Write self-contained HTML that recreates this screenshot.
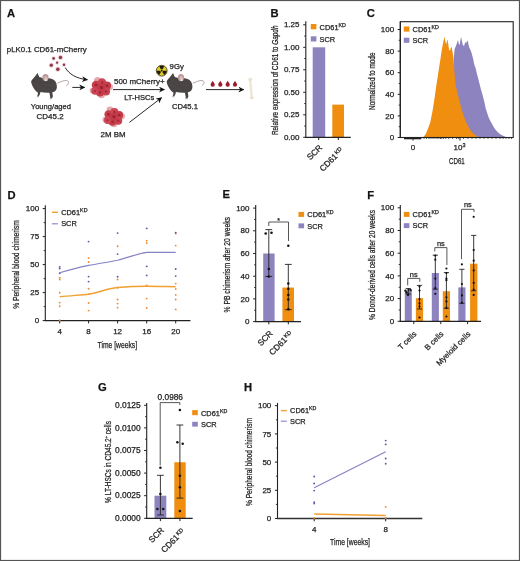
<!DOCTYPE html><html><head><meta charset="utf-8"><style>html,body{margin:0;padding:0;background:#fff;}svg{display:block;will-change:transform;}text{font-family:"Liberation Sans",sans-serif;stroke:#222;stroke-width:0.25px;}</style></head><body>
<svg width="520" height="561" viewBox="0 0 520 561">
<rect x="0" y="0" width="520" height="561" fill="#fff"/>
<text x="7" y="17.1" font-size="11.2" font-weight="bold" fill="#111">A</text>
<text x="6.80" y="51.90" font-size="7.8" text-anchor="start" fill="#222" textLength="80" lengthAdjust="spacingAndGlyphs">pLK0.1 CD61-mCherry</text>
<text x="50.90" y="108.90" font-size="7.8" text-anchor="middle" fill="#222" textLength="40.2" lengthAdjust="spacingAndGlyphs">Young/aged</text>
<text x="50.10" y="118.60" font-size="7.8" text-anchor="middle" fill="#222" textLength="27" lengthAdjust="spacingAndGlyphs">CD45.2</text>
<text x="114.00" y="84.20" font-size="7.8" text-anchor="start" fill="#222" textLength="50.6" lengthAdjust="spacingAndGlyphs">500 mCherry+</text>
<text x="124.20" y="100.20" font-size="7.8" text-anchor="start" fill="#222" textLength="30.2" lengthAdjust="spacingAndGlyphs">LT-HSCs</text>
<text x="100.60" y="136.70" font-size="7.8" text-anchor="start" fill="#222" textLength="25" lengthAdjust="spacingAndGlyphs">2M BM</text>
<text x="169.60" y="68.80" font-size="7.8" text-anchor="start" fill="#222" textLength="14.2" lengthAdjust="spacingAndGlyphs">9Gy</text>
<text x="185.00" y="108.70" font-size="7.8" text-anchor="middle" fill="#222" textLength="26" lengthAdjust="spacingAndGlyphs">CD45.1</text>
<defs><marker id="ah" viewBox="0 0 10 10" refX="9" refY="5" markerWidth="6" markerHeight="6" markerUnits="userSpaceOnUse" orient="auto"><path d="M0,0 L10,5 L0,10 L3,5 Z" fill="#111"/></marker>
<g id="mouse"><path d="M57.2,83.2 C60.5,82.2 63.5,80.2 66.5,80.5 C69.5,80.9 69,83.8 66.2,86" fill="none" stroke="#a48d8d" stroke-width="0.8"/><path d="M31.1,81.4 C32,79.6 33.8,77.6 35.1,76.2 L37.5,73.1 L39.3,77.1 C40.6,77.4 41.8,77.8 42.8,78.2 L48.9,78.3 C51,78.6 53,79.2 54.5,80.5 C56.2,82 57,84.5 56.9,87.2 C56.8,89.5 55.5,91.2 53.6,92 L52.3,92.3 L52.9,96.6 L51.9,98.4 L49.9,98.3 L50.3,97.3 L49.4,92.7 C46,92.9 43,92.5 40.5,91.9 L39.8,94.6 L38.6,96.4 L37.0,96.3 L37.6,95.2 L38.0,92.8 C36.2,91.6 34.4,89.5 33.2,87.2 C32.2,85.4 31.3,83.4 31.1,81.4 Z" fill="#4a4545"/><path d="M36.9,96.6 L38.8,96.7 M49.6,98.7 L52,98.7" stroke="#b7a7a7" stroke-width="1.1"/><path d="M34,83 C36,86 40,88 44,88.5 M45,84 C48,86 52,86 55,85" stroke="#5a5454" stroke-width="0.6" fill="none" opacity="0.7"/><ellipse cx="45.5" cy="77.6" rx="3.1" ry="3.7" fill="#b99a98"/><ellipse cx="45.8" cy="78.6" rx="1.8" ry="2.3" fill="#d9bcba"/><ellipse cx="46.2" cy="80.2" rx="1.1" ry="0.9" fill="#efe2e0"/><circle cx="33.9" cy="80.3" r="0.45" fill="#1a1a1a"/></g>
<g id="cluster"><circle cx="-3.5" cy="-7" r="3.5" fill="#e4a7ab"/><circle cx="0.5" cy="7.2" r="3.5" fill="#e6adb0"/><circle cx="8.8" cy="-0.5" r="3.2" fill="#e8b2b4"/><circle cx="-8.3" cy="3" r="3" fill="#e4a7ab"/><circle cx="-5" cy="-2.5" r="4.3" fill="#c63e4b"/><circle cx="1" cy="-5" r="4.2" fill="#cc4654"/><circle cx="6" cy="-1.8" r="4.1" fill="#c43c4a"/><circle cx="5" cy="4" r="4.1" fill="#c84250"/><circle cx="-1" cy="5" r="4.1" fill="#c53d4b"/><circle cx="-6" cy="3.5" r="3.8" fill="#cc4654"/><circle cx="0" cy="0" r="4" fill="#c23a48"/><circle cx="-5" cy="-2.5" r="1.4" fill="#a3232f"/><circle cx="1" cy="-5" r="1.3" fill="#a8283a"/><circle cx="6" cy="-1.8" r="1.3" fill="#a3232f"/><circle cx="5" cy="4" r="1.3" fill="#a8283a"/><circle cx="-1" cy="5" r="1.3" fill="#a3232f"/><circle cx="-6" cy="3.5" r="1.1" fill="#a8283a"/><circle cx="0.5" cy="0" r="1.5" fill="#9c1f2c"/></g>
<path id="drop" d="M0,0 C0.6,1.4 2.1,2.6 2.1,3.9 A2.1,2.1 0 0 1 -2.1,3.9 C-2.1,2.6 -0.6,1.4 0,0 Z" fill="#9c1b2c"/>
</defs>
<circle cx="53.6" cy="58.4" r="2.20" fill="#f0c4cc" opacity="0.7"/>
<circle cx="53.60" cy="58.40" r="1.3" fill="#8c3646"/>
<circle cx="60.5" cy="57.4" r="2.60" fill="#f0c4cc" opacity="0.7"/>
<circle cx="60.50" cy="57.40" r="1.7" fill="#8c3646"/>
<circle cx="57.1" cy="62.7" r="2.00" fill="#f0c4cc" opacity="0.7"/>
<circle cx="57.10" cy="62.70" r="1.1" fill="#8c3646"/>
<circle cx="51.3" cy="65.2" r="2.50" fill="#f0c4cc" opacity="0.7"/>
<circle cx="51.30" cy="65.20" r="1.6" fill="#8c3646"/>
<circle cx="64.0" cy="64.8" r="2.10" fill="#f0c4cc" opacity="0.7"/>
<circle cx="64.00" cy="64.80" r="1.2" fill="#8c3646"/>
<circle cx="57.8" cy="69.2" r="2.60" fill="#f0c4cc" opacity="0.7"/>
<circle cx="57.80" cy="69.20" r="1.7" fill="#8c3646"/>
<use href="#mouse"/>
<use href="#mouse" transform="translate(135.5,0)"/>
<use href="#cluster" transform="translate(101,87.5)"/>
<use href="#cluster" transform="translate(113.4,116.8) scale(0.97)"/>
<path d="M65.2,67.6 C69,74 76,78.5 87.4,79.8" fill="none" stroke="#111" stroke-width="0.9" marker-end="url(#ah)"/>
<line x1="72.3" y1="87.4" x2="84.6" y2="87.4" stroke="#111" stroke-width="0.9" marker-end="url(#ah)"/>
<line x1="113" y1="89.6" x2="164.4" y2="89.6" stroke="#111" stroke-width="0.9" marker-end="url(#ah)"/>
<line x1="129.4" y1="122.4" x2="161.6" y2="97.7" stroke="#111" stroke-width="0.9" marker-end="url(#ah)"/>
<line x1="206" y1="89.6" x2="243.8" y2="89.6" stroke="#111" stroke-width="0.9" marker-end="url(#ah)"/>
<circle cx="161.7" cy="70.7" r="5.4" fill="#dccd2a" stroke="#3a3214" stroke-width="0.8"/>
<path d="M161.00,69.49 L159.20,66.37 A5.0,5.0 0 0 1 164.20,66.37 L162.40,69.49 A1.4,1.4 0 0 0 161.00,69.49 Z" fill="#1e1a10"/>
<path d="M163.10,70.70 L166.70,70.70 A5.0,5.0 0 0 1 164.20,75.03 L162.40,71.91 A1.4,1.4 0 0 0 163.10,70.70 Z" fill="#1e1a10"/>
<path d="M161.00,71.91 L159.20,75.03 A5.0,5.0 0 0 1 156.70,70.70 L160.30,70.70 A1.4,1.4 0 0 0 161.00,71.91 Z" fill="#1e1a10"/>
<circle cx="161.70" cy="70.70" r="0.9" fill="#1e1a10"/>
<use href="#drop" transform="translate(212.7,80.8)"/>
<use href="#drop" transform="translate(220.3,80.8)"/>
<use href="#drop" transform="translate(227.7,80.8)"/>
<use href="#drop" transform="translate(235.0,80.8)"/>
<g fill="#efe6d6" stroke="#e4d8c4" stroke-width="0.35"><path d="M249.3,80.2 L251.0,80.2 L252.7,97.4 L250.9,97.4 Z"/><ellipse cx="250.2" cy="79.5" rx="1.9" ry="1.2"/><ellipse cx="251.9" cy="97.9" rx="1.9" ry="1.2"/></g><rect x="249" y="78.2" width="2.5" height="1" fill="#ddd8d0" opacity="0.6"/>
<text x="270.6" y="17.2" font-size="11.2" font-weight="bold" fill="#111">B</text>
<rect x="312.70" y="47.30" width="12.50" height="90.00" fill="#8c83bf"/>
<rect x="332.30" y="104.63" width="11.70" height="32.67" fill="#f08e10"/>
<line x1="305.80" y1="21.30" x2="305.80" y2="137.80" stroke="#222" stroke-width="1.1" />
<line x1="303.20" y1="137.30" x2="305.80" y2="137.30" stroke="#222" stroke-width="1.0" />
<text x="299.50" y="139.90" font-size="8.0" text-anchor="end" fill="#222" >0.00</text>
<line x1="303.20" y1="114.80" x2="305.80" y2="114.80" stroke="#222" stroke-width="1.0" />
<text x="299.50" y="117.40" font-size="8.0" text-anchor="end" fill="#222" >0.25</text>
<line x1="303.20" y1="92.30" x2="305.80" y2="92.30" stroke="#222" stroke-width="1.0" />
<text x="299.50" y="94.90" font-size="8.0" text-anchor="end" fill="#222" >0.50</text>
<line x1="303.20" y1="69.80" x2="305.80" y2="69.80" stroke="#222" stroke-width="1.0" />
<text x="299.50" y="72.40" font-size="8.0" text-anchor="end" fill="#222" >0.75</text>
<line x1="303.20" y1="47.30" x2="305.80" y2="47.30" stroke="#222" stroke-width="1.0" />
<text x="299.50" y="49.90" font-size="8.0" text-anchor="end" fill="#222" >1.00</text>
<line x1="303.20" y1="24.80" x2="305.80" y2="24.80" stroke="#222" stroke-width="1.0" />
<text x="299.50" y="27.40" font-size="8.0" text-anchor="end" fill="#222" >1.25</text>
<line x1="304.20" y1="126.05" x2="305.80" y2="126.05" stroke="#222" stroke-width="0.9" />
<line x1="304.20" y1="103.55" x2="305.80" y2="103.55" stroke="#222" stroke-width="0.9" />
<line x1="304.20" y1="81.05" x2="305.80" y2="81.05" stroke="#222" stroke-width="0.9" />
<line x1="304.20" y1="58.55" x2="305.80" y2="58.55" stroke="#222" stroke-width="0.9" />
<line x1="304.20" y1="36.05" x2="305.80" y2="36.05" stroke="#222" stroke-width="0.9" />
<line x1="305.30" y1="137.30" x2="350.80" y2="137.30" stroke="#222" stroke-width="1.2" />
<line x1="318.70" y1="137.30" x2="318.70" y2="140.10" stroke="#222" stroke-width="1.0" />
<line x1="338.30" y1="137.30" x2="338.30" y2="140.10" stroke="#222" stroke-width="1.0" />
<rect x="310.80" y="24.00" width="5.60" height="5.30" fill="#f08e10"/>
<text x="319.60" y="29.60" font-size="7.4" fill="#222">CD61<tspan font-size="5.33" dy="-3.0">KD</tspan></text>
<rect x="310.80" y="36.30" width="5.60" height="5.20" fill="#8c83bf"/>
<text x="319.60" y="41.80" font-size="7.4" text-anchor="start" fill="#222" >SCR</text>
<text transform="translate(278.40,80.30) rotate(-90)" x="0" y="0" font-size="9.4" text-anchor="middle" fill="#222" textLength="109.6" lengthAdjust="spacingAndGlyphs">Relative expression of CD61 to <tspan font-style="italic">Gapdh</tspan></text>
<text transform="translate(322.80,148.10) rotate(-45)" x="0" y="0" font-size="8.4" text-anchor="end" fill="#222">SCR</text>
<text transform="translate(344.0,151.0) rotate(-45)" x="0" y="0" font-size="8.4" text-anchor="end" fill="#222">CD61<tspan font-size="5.6" dx="0.5" dy="-2.6">KD</tspan></text>
<text x="366.8" y="17.0" font-size="11.2" font-weight="bold" fill="#111">C</text>
<path d="M447.0,137.5 L450.0,120.0 L452.0,100.0 L453.5,80.0 L453.8,58.0 L454.6,49.0 L455.5,47.0 L456.5,44.5 L457.3,42.0 L458.0,40.0 L458.8,44.0 L459.6,45.0 L460.3,41.0 L461.0,37.0 L461.8,40.0 L462.5,44.0 L463.3,45.5 L464.1,46.0 L464.8,43.5 L465.4,42.0 L466.2,43.0 L467.0,41.2 L467.7,40.6 L468.4,44.0 L469.2,47.5 L470.0,49.0 L470.8,50.8 L471.6,53.0 L472.5,56.5 L473.3,59.5 L474.0,63.5 L474.8,66.0 L475.7,68.5 L476.6,72.5 L477.8,77.1 L479.2,82.5 L480.7,88.5 L482.0,93.0 L483.5,98.5 L484.6,103.0 L485.7,108.4 L487.0,112.5 L488.5,117.0 L490.2,120.8 L492.1,124.1 L493.8,127.2 L495.6,129.8 L497.8,132.2 L499.9,134.1 L502.0,135.3 L504.2,136.2 L507.0,137.5 Z" fill="#8c83bf"/>
<path d="M423.1,137.5 L425.9,133.7 L428.0,128.5 L430.1,123.0 L432.3,112.3 L433.3,106.2 L435.0,95.0 L436.4,85.0 L437.5,78.0 L439.0,68.0 L440.3,60.0 L441.3,53.0 L442.5,46.0 L443.5,41.0 L444.6,36.8 L445.4,41.5 L446.2,44.6 L447.0,41.0 L447.7,39.8 L448.4,45.0 L449.2,50.8 L450.2,50.0 L451.0,47.5 L451.5,46.8 L452.2,50.0 L452.9,54.2 L453.5,58.8 L454.6,73.8 L455.5,85.0 L456.3,88.0 L458.5,97.0 L460.8,106.2 L463.0,114.0 L466.0,122.0 L468.5,127.0 L471.3,131.5 L474.5,134.5 L477.7,136.8 L480.0,137.5 Z" fill="#f08e10"/>
<rect x="400.3" y="21.7" width="112.9" height="115.8" fill="none" stroke="#222" stroke-width="1.1"/>
<line x1="400.30" y1="21.70" x2="400.30" y2="138.00" stroke="#222" stroke-width="1.1" />
<line x1="397.70" y1="137.50" x2="400.30" y2="137.50" stroke="#222" stroke-width="1.0" />
<text x="394.10" y="140.10" font-size="8.0" text-anchor="end" fill="#222" >0</text>
<line x1="397.70" y1="115.90" x2="400.30" y2="115.90" stroke="#222" stroke-width="1.0" />
<text x="394.10" y="118.50" font-size="8.0" text-anchor="end" fill="#222" >20</text>
<line x1="397.70" y1="94.30" x2="400.30" y2="94.30" stroke="#222" stroke-width="1.0" />
<text x="394.10" y="96.90" font-size="8.0" text-anchor="end" fill="#222" >40</text>
<line x1="397.70" y1="72.70" x2="400.30" y2="72.70" stroke="#222" stroke-width="1.0" />
<text x="394.10" y="75.30" font-size="8.0" text-anchor="end" fill="#222" >60</text>
<line x1="397.70" y1="51.10" x2="400.30" y2="51.10" stroke="#222" stroke-width="1.0" />
<text x="394.10" y="53.70" font-size="8.0" text-anchor="end" fill="#222" >80</text>
<line x1="397.70" y1="29.50" x2="400.30" y2="29.50" stroke="#222" stroke-width="1.0" />
<text x="394.10" y="32.10" font-size="8.0" text-anchor="end" fill="#222" >100</text>
<line x1="398.70" y1="126.70" x2="400.30" y2="126.70" stroke="#222" stroke-width="0.9" />
<line x1="398.70" y1="105.10" x2="400.30" y2="105.10" stroke="#222" stroke-width="0.9" />
<line x1="398.70" y1="83.50" x2="400.30" y2="83.50" stroke="#222" stroke-width="0.9" />
<line x1="398.70" y1="61.90" x2="400.30" y2="61.90" stroke="#222" stroke-width="0.9" />
<line x1="398.70" y1="40.30" x2="400.30" y2="40.30" stroke="#222" stroke-width="0.9" />
<rect x="404" y="137.5" width="17" height="1.8" fill="#222"/>
<line x1="413.00" y1="137.50" x2="413.00" y2="140.50" stroke="#222" stroke-width="1.0" />
<line x1="460.00" y1="137.50" x2="460.00" y2="140.50" stroke="#222" stroke-width="1.0" />
<line x1="405.00" y1="137.50" x2="405.00" y2="139.00" stroke="#222" stroke-width="0.7" />
<line x1="407.00" y1="137.50" x2="407.00" y2="139.00" stroke="#222" stroke-width="0.7" />
<line x1="409.00" y1="137.50" x2="409.00" y2="139.00" stroke="#222" stroke-width="0.7" />
<line x1="411.00" y1="137.50" x2="411.00" y2="139.00" stroke="#222" stroke-width="0.7" />
<line x1="415.00" y1="137.50" x2="415.00" y2="139.00" stroke="#222" stroke-width="0.7" />
<line x1="417.00" y1="137.50" x2="417.00" y2="139.00" stroke="#222" stroke-width="0.7" />
<line x1="419.00" y1="137.50" x2="419.00" y2="139.00" stroke="#222" stroke-width="0.7" />
<line x1="421.00" y1="137.50" x2="421.00" y2="139.00" stroke="#222" stroke-width="0.7" />
<line x1="424.00" y1="137.50" x2="424.00" y2="139.00" stroke="#222" stroke-width="0.7" />
<line x1="426.50" y1="137.50" x2="426.50" y2="139.00" stroke="#222" stroke-width="0.7" />
<line x1="429.00" y1="137.50" x2="429.00" y2="139.00" stroke="#222" stroke-width="0.7" />
<line x1="431.00" y1="137.50" x2="431.00" y2="139.00" stroke="#222" stroke-width="0.7" />
<line x1="433.00" y1="137.50" x2="433.00" y2="139.00" stroke="#222" stroke-width="0.7" />
<line x1="435.00" y1="137.50" x2="435.00" y2="139.00" stroke="#222" stroke-width="0.7" />
<line x1="437.00" y1="137.50" x2="437.00" y2="139.00" stroke="#222" stroke-width="0.7" />
<line x1="438.80" y1="137.50" x2="438.80" y2="139.00" stroke="#222" stroke-width="0.7" />
<line x1="440.50" y1="137.50" x2="440.50" y2="139.00" stroke="#222" stroke-width="0.7" />
<line x1="441.80" y1="137.50" x2="441.80" y2="139.00" stroke="#222" stroke-width="0.7" />
<line x1="443.50" y1="137.50" x2="443.50" y2="139.00" stroke="#222" stroke-width="0.7" />
<line x1="445.70" y1="137.50" x2="445.70" y2="139.00" stroke="#222" stroke-width="0.7" />
<line x1="448.80" y1="137.50" x2="448.80" y2="139.00" stroke="#222" stroke-width="0.7" />
<line x1="452.60" y1="137.50" x2="452.60" y2="139.00" stroke="#222" stroke-width="0.7" />
<line x1="456.50" y1="137.50" x2="456.50" y2="139.00" stroke="#222" stroke-width="0.7" />
<line x1="458.30" y1="137.50" x2="458.30" y2="139.00" stroke="#222" stroke-width="0.7" />
<line x1="463.50" y1="137.50" x2="463.50" y2="139.00" stroke="#222" stroke-width="0.7" />
<line x1="468.00" y1="137.50" x2="468.00" y2="139.00" stroke="#222" stroke-width="0.7" />
<line x1="472.00" y1="137.50" x2="472.00" y2="139.00" stroke="#222" stroke-width="0.7" />
<line x1="476.00" y1="137.50" x2="476.00" y2="139.00" stroke="#222" stroke-width="0.7" />
<line x1="480.00" y1="137.50" x2="480.00" y2="139.00" stroke="#222" stroke-width="0.7" />
<line x1="484.00" y1="137.50" x2="484.00" y2="139.00" stroke="#222" stroke-width="0.7" />
<line x1="488.00" y1="137.50" x2="488.00" y2="139.00" stroke="#222" stroke-width="0.7" />
<line x1="492.00" y1="137.50" x2="492.00" y2="139.00" stroke="#222" stroke-width="0.7" />
<line x1="496.00" y1="137.50" x2="496.00" y2="139.00" stroke="#222" stroke-width="0.7" />
<line x1="500.00" y1="137.50" x2="500.00" y2="139.00" stroke="#222" stroke-width="0.7" />
<line x1="503.00" y1="137.50" x2="503.00" y2="139.00" stroke="#222" stroke-width="0.7" />
<line x1="506.00" y1="137.50" x2="506.00" y2="139.00" stroke="#222" stroke-width="0.7" />
<line x1="509.00" y1="137.50" x2="509.00" y2="139.00" stroke="#222" stroke-width="0.7" />
<line x1="511.50" y1="137.50" x2="511.50" y2="139.00" stroke="#222" stroke-width="0.7" />
<text x="413.00" y="150.40" font-size="8.0" text-anchor="middle" fill="#222" >0</text>
<text x="453.6" y="150.4" font-size="8.0" fill="#222">10<tspan font-size="5.4" dy="-3.3">3</tspan></text>
<text x="456.90" y="164.00" font-size="9.4" text-anchor="middle" fill="#222" textLength="15.7" lengthAdjust="spacingAndGlyphs">CD61</text>
<text transform="translate(375.10,81.25) rotate(-90)" x="0" y="0" font-size="9.4" text-anchor="middle" fill="#222" textLength="57.5" lengthAdjust="spacingAndGlyphs">Normalized to mode</text>
<rect x="403.80" y="26.50" width="5.60" height="5.10" fill="#f08e10"/>
<text x="412.60" y="31.90" font-size="7.4" fill="#222">CD61<tspan font-size="5.33" dy="-3.0">KD</tspan></text>
<rect x="403.80" y="37.70" width="5.60" height="5.10" fill="#8c83bf"/>
<text x="412.60" y="43.10" font-size="7.4" text-anchor="start" fill="#222" >SCR</text>
<text x="7.6" y="199.4" font-size="11.2" font-weight="bold" fill="#111">D</text>
<line x1="45.30" y1="205.20" x2="45.30" y2="321.10" stroke="#222" stroke-width="1.1" />
<line x1="42.70" y1="320.60" x2="45.30" y2="320.60" stroke="#222" stroke-width="1.0" />
<text x="39.10" y="323.20" font-size="8.0" text-anchor="end" fill="#222" >0</text>
<line x1="42.70" y1="292.60" x2="45.30" y2="292.60" stroke="#222" stroke-width="1.0" />
<text x="39.10" y="295.20" font-size="8.0" text-anchor="end" fill="#222" >25</text>
<line x1="42.70" y1="264.60" x2="45.30" y2="264.60" stroke="#222" stroke-width="1.0" />
<text x="39.10" y="267.20" font-size="8.0" text-anchor="end" fill="#222" >50</text>
<line x1="42.70" y1="236.60" x2="45.30" y2="236.60" stroke="#222" stroke-width="1.0" />
<text x="39.10" y="239.20" font-size="8.0" text-anchor="end" fill="#222" >75</text>
<line x1="42.70" y1="208.60" x2="45.30" y2="208.60" stroke="#222" stroke-width="1.0" />
<text x="39.10" y="211.20" font-size="8.0" text-anchor="end" fill="#222" >100</text>
<line x1="43.70" y1="306.60" x2="45.30" y2="306.60" stroke="#222" stroke-width="0.9" />
<line x1="43.70" y1="278.60" x2="45.30" y2="278.60" stroke="#222" stroke-width="0.9" />
<line x1="43.70" y1="250.60" x2="45.30" y2="250.60" stroke="#222" stroke-width="0.9" />
<line x1="43.70" y1="222.60" x2="45.30" y2="222.60" stroke="#222" stroke-width="0.9" />
<line x1="44.80" y1="320.60" x2="190.40" y2="320.60" stroke="#222" stroke-width="1.2" />
<line x1="59.70" y1="320.60" x2="59.70" y2="323.40" stroke="#222" stroke-width="1.0" />
<text x="59.70" y="334.00" font-size="8.0" text-anchor="middle" fill="#222" >4</text>
<line x1="88.60" y1="320.60" x2="88.60" y2="323.40" stroke="#222" stroke-width="1.0" />
<text x="88.60" y="334.00" font-size="8.0" text-anchor="middle" fill="#222" >8</text>
<line x1="117.60" y1="320.60" x2="117.60" y2="323.40" stroke="#222" stroke-width="1.0" />
<text x="117.60" y="334.00" font-size="8.0" text-anchor="middle" fill="#222" >12</text>
<line x1="146.70" y1="320.60" x2="146.70" y2="323.40" stroke="#222" stroke-width="1.0" />
<text x="146.70" y="334.00" font-size="8.0" text-anchor="middle" fill="#222" >16</text>
<line x1="175.70" y1="320.60" x2="175.70" y2="323.40" stroke="#222" stroke-width="1.0" />
<text x="175.70" y="334.00" font-size="8.0" text-anchor="middle" fill="#222" >20</text>
<text x="117.35" y="347.80" font-size="9.4" text-anchor="middle" fill="#222" textLength="39.5" lengthAdjust="spacingAndGlyphs">Time [weeks]</text>
<text transform="translate(19.30,264.50) rotate(-90)" x="0" y="0" font-size="9.4" text-anchor="middle" fill="#222" textLength="88.7" lengthAdjust="spacingAndGlyphs">% Peripheral blood chimerism</text>
<circle cx="59.70" cy="277.70" r="0.95" fill="#ee8a30"/>
<circle cx="59.70" cy="279.50" r="0.95" fill="#ee8a30"/>
<circle cx="59.70" cy="292.70" r="0.95" fill="#ee8a30"/>
<circle cx="59.70" cy="302.60" r="0.95" fill="#ee8a30"/>
<circle cx="59.70" cy="306.20" r="0.95" fill="#ee8a30"/>
<circle cx="59.70" cy="320.20" r="0.95" fill="#ee8a30"/>
<circle cx="59.70" cy="266.90" r="0.95" fill="#5c5aa8"/>
<circle cx="59.70" cy="268.60" r="0.95" fill="#5c5aa8"/>
<circle cx="59.70" cy="273.30" r="0.95" fill="#5c5aa8"/>
<circle cx="88.60" cy="258.10" r="0.95" fill="#ee8a30"/>
<circle cx="88.60" cy="262.00" r="0.95" fill="#ee8a30"/>
<circle cx="88.60" cy="288.80" r="0.95" fill="#ee8a30"/>
<circle cx="88.60" cy="294.10" r="0.95" fill="#ee8a30"/>
<circle cx="88.60" cy="303.00" r="0.95" fill="#ee8a30"/>
<circle cx="88.60" cy="310.60" r="0.95" fill="#ee8a30"/>
<circle cx="88.60" cy="241.60" r="0.95" fill="#5c5aa8"/>
<circle cx="88.60" cy="276.60" r="0.95" fill="#5c5aa8"/>
<circle cx="88.60" cy="281.60" r="0.95" fill="#5c5aa8"/>
<circle cx="117.60" cy="246.20" r="0.95" fill="#ee8a30"/>
<circle cx="117.60" cy="279.50" r="0.95" fill="#ee8a30"/>
<circle cx="117.60" cy="287.70" r="0.95" fill="#ee8a30"/>
<circle cx="117.60" cy="299.50" r="0.95" fill="#ee8a30"/>
<circle cx="117.60" cy="303.60" r="0.95" fill="#ee8a30"/>
<circle cx="117.60" cy="307.60" r="0.95" fill="#ee8a30"/>
<circle cx="117.60" cy="233.10" r="0.95" fill="#5c5aa8"/>
<circle cx="117.60" cy="254.10" r="0.95" fill="#5c5aa8"/>
<circle cx="117.60" cy="276.70" r="0.95" fill="#5c5aa8"/>
<circle cx="146.70" cy="240.60" r="0.95" fill="#ee8a30"/>
<circle cx="146.70" cy="243.00" r="0.95" fill="#ee8a30"/>
<circle cx="146.70" cy="285.50" r="0.95" fill="#ee8a30"/>
<circle cx="146.70" cy="298.60" r="0.95" fill="#ee8a30"/>
<circle cx="146.70" cy="308.00" r="0.95" fill="#ee8a30"/>
<circle cx="146.70" cy="228.40" r="0.95" fill="#5c5aa8"/>
<circle cx="146.70" cy="266.40" r="0.95" fill="#5c5aa8"/>
<circle cx="146.70" cy="275.40" r="0.95" fill="#5c5aa8"/>
<circle cx="175.70" cy="233.50" r="0.95" fill="#ee8a30"/>
<circle cx="175.70" cy="245.60" r="0.95" fill="#ee8a30"/>
<circle cx="175.70" cy="283.60" r="0.95" fill="#ee8a30"/>
<circle cx="175.70" cy="288.90" r="0.95" fill="#ee8a30"/>
<circle cx="175.70" cy="294.90" r="0.95" fill="#ee8a30"/>
<circle cx="175.70" cy="299.50" r="0.95" fill="#ee8a30"/>
<circle cx="175.70" cy="309.40" r="0.95" fill="#ee8a30"/>
<circle cx="175.70" cy="232.70" r="0.95" fill="#5c5aa8"/>
<circle cx="175.70" cy="269.00" r="0.95" fill="#5c5aa8"/>
<circle cx="175.70" cy="276.10" r="0.95" fill="#5c5aa8"/>
<path d="M59.7,272.7 C70,269.8 78,267.6 88.6,265.4 C98,263.5 108,262.2 117.6,260.2 C128,257.6 137,253.8 146.7,252.4 L175.7,252.4" fill="none" stroke="#8682c6" stroke-width="1.1"/>
<path d="M59.7,296.8 C70,295.6 80,295.2 88.6,294.2 C99,292.6 106,288.6 117.6,287.6 C127,286.8 137,286.3 146.7,286.3 C157,286.3 165,286.6 175.7,286.8" fill="none" stroke="#f0a030" stroke-width="1.5"/>
<line x1="51.90" y1="212.30" x2="57.90" y2="212.30" stroke="#f0a030" stroke-width="1.4" />
<text x="61.20" y="214.50" font-size="7.4" fill="#222">CD61<tspan font-size="5.33" dy="-3.0">KD</tspan></text>
<line x1="51.90" y1="223.80" x2="57.90" y2="223.80" stroke="#8682c6" stroke-width="1.1" />
<text x="61.20" y="226.00" font-size="7.4" text-anchor="start" fill="#222" >SCR</text>
<text x="222.6" y="198.3" font-size="11.2" font-weight="bold" fill="#111">E</text>
<rect x="263.20" y="253.50" width="11.40" height="68.10" fill="#8c83bf"/>
<rect x="282.40" y="287.55" width="11.60" height="34.05" fill="#f08e10"/>
<line x1="255.70" y1="205.00" x2="255.70" y2="322.10" stroke="#222" stroke-width="1.1" />
<line x1="253.10" y1="321.60" x2="255.70" y2="321.60" stroke="#222" stroke-width="1.0" />
<text x="249.50" y="324.20" font-size="8.0" text-anchor="end" fill="#222" >0</text>
<line x1="253.10" y1="298.90" x2="255.70" y2="298.90" stroke="#222" stroke-width="1.0" />
<text x="249.50" y="301.50" font-size="8.0" text-anchor="end" fill="#222" >20</text>
<line x1="253.10" y1="276.20" x2="255.70" y2="276.20" stroke="#222" stroke-width="1.0" />
<text x="249.50" y="278.80" font-size="8.0" text-anchor="end" fill="#222" >40</text>
<line x1="253.10" y1="253.50" x2="255.70" y2="253.50" stroke="#222" stroke-width="1.0" />
<text x="249.50" y="256.10" font-size="8.0" text-anchor="end" fill="#222" >60</text>
<line x1="253.10" y1="230.80" x2="255.70" y2="230.80" stroke="#222" stroke-width="1.0" />
<text x="249.50" y="233.40" font-size="8.0" text-anchor="end" fill="#222" >80</text>
<line x1="253.10" y1="208.10" x2="255.70" y2="208.10" stroke="#222" stroke-width="1.0" />
<text x="249.50" y="210.70" font-size="8.0" text-anchor="end" fill="#222" >100</text>
<line x1="254.10" y1="310.25" x2="255.70" y2="310.25" stroke="#222" stroke-width="0.9" />
<line x1="254.10" y1="287.55" x2="255.70" y2="287.55" stroke="#222" stroke-width="0.9" />
<line x1="254.10" y1="264.85" x2="255.70" y2="264.85" stroke="#222" stroke-width="0.9" />
<line x1="254.10" y1="242.15" x2="255.70" y2="242.15" stroke="#222" stroke-width="0.9" />
<line x1="254.10" y1="219.45" x2="255.70" y2="219.45" stroke="#222" stroke-width="0.9" />
<line x1="255.20" y1="321.60" x2="301.00" y2="321.60" stroke="#222" stroke-width="1.2" />
<line x1="268.80" y1="321.60" x2="268.80" y2="324.40" stroke="#222" stroke-width="1.0" />
<line x1="288.30" y1="321.60" x2="288.30" y2="324.40" stroke="#222" stroke-width="1.0" />
<line x1="268.80" y1="229.60" x2="268.80" y2="276.50" stroke="#222" stroke-width="0.9" />
<line x1="265.40" y1="229.60" x2="272.20" y2="229.60" stroke="#222" stroke-width="0.9" />
<line x1="265.40" y1="276.50" x2="272.20" y2="276.50" stroke="#222" stroke-width="0.9" />
<line x1="288.30" y1="264.40" x2="288.30" y2="309.70" stroke="#222" stroke-width="0.9" />
<line x1="284.90" y1="264.40" x2="291.70" y2="264.40" stroke="#222" stroke-width="0.9" />
<line x1="284.90" y1="309.70" x2="291.70" y2="309.70" stroke="#222" stroke-width="0.9" />
<circle cx="265.70" cy="233.50" r="1.3" fill="#111"/>
<circle cx="271.50" cy="232.70" r="1.3" fill="#111"/>
<circle cx="268.80" cy="269.00" r="1.25" fill="#111"/>
<circle cx="268.80" cy="276.50" r="1.25" fill="#111"/>
<circle cx="288.30" cy="245.80" r="1.25" fill="#111"/>
<circle cx="288.30" cy="283.50" r="1.25" fill="#111"/>
<circle cx="288.30" cy="288.70" r="1.25" fill="#111"/>
<circle cx="288.30" cy="294.90" r="1.25" fill="#111"/>
<circle cx="288.30" cy="299.60" r="1.25" fill="#111"/>
<circle cx="288.30" cy="309.30" r="1.25" fill="#111"/>
<path d="M268.8,226 L268.8,222 L288.5,222 L288.5,241" fill="none" stroke="#444" stroke-width="0.9"/>
<text x="278.60" y="222.80" font-size="7.0" text-anchor="middle" fill="#222" >*</text>
<rect x="298.50" y="211.90" width="5.60" height="5.00" fill="#f08e10"/>
<text x="307.30" y="217.20" font-size="7.4" fill="#222">CD61<tspan font-size="5.33" dy="-3.0">KD</tspan></text>
<rect x="298.50" y="223.40" width="5.60" height="4.90" fill="#8c83bf"/>
<text x="307.30" y="228.60" font-size="7.4" text-anchor="start" fill="#222" >SCR</text>
<text transform="translate(229.80,264.80) rotate(-90)" x="0" y="0" font-size="9.4" text-anchor="middle" fill="#222" textLength="95.4" lengthAdjust="spacingAndGlyphs">% PB chimerism after 20 weeks</text>
<text transform="translate(273.40,333.90) rotate(-45)" x="0" y="0" font-size="8.4" text-anchor="end" fill="#222">SCR</text>
<text transform="translate(293.4,334.7) rotate(-45)" x="0" y="0" font-size="8.4" text-anchor="end" fill="#222">CD61<tspan font-size="5.6" dx="0.5" dy="-2.6">KD</tspan></text>
<text x="367.2" y="199.0" font-size="11.2" font-weight="bold" fill="#111">F</text>
<rect x="404.80" y="290.60" width="7.00" height="30.70" fill="#8c83bf"/>
<rect x="415.90" y="298.20" width="7.20" height="23.10" fill="#f08e10"/>
<rect x="431.80" y="273.00" width="7.10" height="48.30" fill="#8c83bf"/>
<rect x="442.80" y="291.20" width="7.20" height="30.10" fill="#f08e10"/>
<rect x="458.30" y="287.40" width="7.20" height="33.90" fill="#8c83bf"/>
<rect x="470.10" y="263.70" width="7.30" height="57.60" fill="#f08e10"/>
<line x1="400.30" y1="205.00" x2="400.30" y2="321.80" stroke="#222" stroke-width="1.1" />
<line x1="397.70" y1="321.30" x2="400.30" y2="321.30" stroke="#222" stroke-width="1.0" />
<text x="394.10" y="323.90" font-size="8.0" text-anchor="end" fill="#222" >0</text>
<line x1="397.70" y1="298.60" x2="400.30" y2="298.60" stroke="#222" stroke-width="1.0" />
<text x="394.10" y="301.20" font-size="8.0" text-anchor="end" fill="#222" >20</text>
<line x1="397.70" y1="275.90" x2="400.30" y2="275.90" stroke="#222" stroke-width="1.0" />
<text x="394.10" y="278.50" font-size="8.0" text-anchor="end" fill="#222" >40</text>
<line x1="397.70" y1="253.20" x2="400.30" y2="253.20" stroke="#222" stroke-width="1.0" />
<text x="394.10" y="255.80" font-size="8.0" text-anchor="end" fill="#222" >60</text>
<line x1="397.70" y1="230.50" x2="400.30" y2="230.50" stroke="#222" stroke-width="1.0" />
<text x="394.10" y="233.10" font-size="8.0" text-anchor="end" fill="#222" >80</text>
<line x1="397.70" y1="207.80" x2="400.30" y2="207.80" stroke="#222" stroke-width="1.0" />
<text x="394.10" y="210.40" font-size="8.0" text-anchor="end" fill="#222" >100</text>
<line x1="398.70" y1="309.95" x2="400.30" y2="309.95" stroke="#222" stroke-width="0.9" />
<line x1="398.70" y1="287.25" x2="400.30" y2="287.25" stroke="#222" stroke-width="0.9" />
<line x1="398.70" y1="264.55" x2="400.30" y2="264.55" stroke="#222" stroke-width="0.9" />
<line x1="398.70" y1="241.85" x2="400.30" y2="241.85" stroke="#222" stroke-width="0.9" />
<line x1="398.70" y1="219.15" x2="400.30" y2="219.15" stroke="#222" stroke-width="0.9" />
<line x1="399.80" y1="321.30" x2="481.00" y2="321.30" stroke="#222" stroke-width="1.2" />
<line x1="413.80" y1="321.30" x2="413.80" y2="324.10" stroke="#222" stroke-width="1.0" />
<line x1="440.80" y1="321.30" x2="440.80" y2="324.10" stroke="#222" stroke-width="1.0" />
<line x1="467.60" y1="321.30" x2="467.60" y2="324.10" stroke="#222" stroke-width="1.0" />
<line x1="408.30" y1="288.60" x2="408.30" y2="294.00" stroke="#222" stroke-width="0.9" />
<line x1="405.70" y1="288.60" x2="410.90" y2="288.60" stroke="#222" stroke-width="0.9" />
<line x1="405.70" y1="294.00" x2="410.90" y2="294.00" stroke="#222" stroke-width="0.9" />
<circle cx="405.40" cy="290.70" r="1.15" fill="#111"/>
<circle cx="408.60" cy="289.70" r="1.15" fill="#111"/>
<circle cx="410.70" cy="290.20" r="1.15" fill="#111"/>
<circle cx="408.00" cy="295.00" r="1.15" fill="#111"/>
<circle cx="406.50" cy="292.50" r="1.15" fill="#111"/>
<line x1="419.50" y1="285.40" x2="419.50" y2="309.00" stroke="#222" stroke-width="0.9" />
<line x1="416.90" y1="285.40" x2="422.10" y2="285.40" stroke="#222" stroke-width="0.9" />
<line x1="416.90" y1="309.00" x2="422.10" y2="309.00" stroke="#222" stroke-width="0.9" />
<circle cx="419.50" cy="286.60" r="1.1" fill="#111"/>
<circle cx="419.50" cy="290.50" r="1.1" fill="#111"/>
<circle cx="419.50" cy="299.10" r="1.1" fill="#111"/>
<circle cx="419.50" cy="303.40" r="1.1" fill="#111"/>
<circle cx="419.50" cy="306.60" r="1.1" fill="#111"/>
<circle cx="419.50" cy="317.50" r="1.1" fill="#111"/>
<line x1="435.30" y1="255.20" x2="435.30" y2="289.20" stroke="#222" stroke-width="0.9" />
<line x1="432.70" y1="255.20" x2="437.90" y2="255.20" stroke="#222" stroke-width="0.9" />
<line x1="432.70" y1="289.20" x2="437.90" y2="289.20" stroke="#222" stroke-width="0.9" />
<circle cx="435.30" cy="255.60" r="1.1" fill="#111"/>
<circle cx="435.30" cy="259.70" r="1.1" fill="#111"/>
<circle cx="435.30" cy="278.60" r="1.1" fill="#111"/>
<circle cx="435.30" cy="288.20" r="1.1" fill="#111"/>
<circle cx="435.30" cy="293.80" r="1.1" fill="#111"/>
<line x1="446.40" y1="272.60" x2="446.40" y2="308.20" stroke="#222" stroke-width="0.9" />
<line x1="443.80" y1="272.60" x2="449.00" y2="272.60" stroke="#222" stroke-width="0.9" />
<line x1="443.80" y1="308.20" x2="449.00" y2="308.20" stroke="#222" stroke-width="0.9" />
<circle cx="446.40" cy="268.50" r="1.1" fill="#111"/>
<circle cx="446.40" cy="273.00" r="1.1" fill="#111"/>
<circle cx="446.40" cy="278.60" r="1.1" fill="#111"/>
<circle cx="446.40" cy="280.20" r="1.1" fill="#111"/>
<circle cx="446.40" cy="297.30" r="1.1" fill="#111"/>
<circle cx="446.40" cy="301.40" r="1.1" fill="#111"/>
<circle cx="446.40" cy="307.90" r="1.1" fill="#111"/>
<circle cx="446.40" cy="316.50" r="1.1" fill="#111"/>
<line x1="461.90" y1="269.30" x2="461.90" y2="303.30" stroke="#222" stroke-width="0.9" />
<line x1="459.30" y1="269.30" x2="464.50" y2="269.30" stroke="#222" stroke-width="0.9" />
<line x1="459.30" y1="303.30" x2="464.50" y2="303.30" stroke="#222" stroke-width="0.9" />
<circle cx="461.90" cy="264.30" r="1.1" fill="#111"/>
<circle cx="461.90" cy="284.00" r="1.1" fill="#111"/>
<circle cx="461.90" cy="295.40" r="1.1" fill="#111"/>
<circle cx="461.90" cy="302.60" r="1.1" fill="#111"/>
<line x1="473.70" y1="235.40" x2="473.70" y2="290.80" stroke="#222" stroke-width="0.9" />
<line x1="471.10" y1="235.40" x2="476.30" y2="235.40" stroke="#222" stroke-width="0.9" />
<line x1="471.10" y1="290.80" x2="476.30" y2="290.80" stroke="#222" stroke-width="0.9" />
<circle cx="473.70" cy="216.80" r="1.1" fill="#111"/>
<circle cx="473.70" cy="250.10" r="1.1" fill="#111"/>
<circle cx="473.70" cy="260.70" r="1.1" fill="#111"/>
<circle cx="473.70" cy="270.40" r="1.1" fill="#111"/>
<circle cx="473.70" cy="282.90" r="1.1" fill="#111"/>
<circle cx="473.70" cy="289.70" r="1.1" fill="#111"/>
<circle cx="473.70" cy="294.90" r="1.1" fill="#111"/>
<path d="M407.7,285.4 L407.7,278.4 L419.8,278.4 L419.8,281.9" fill="none" stroke="#444" stroke-width="0.9"/>
<text x="413.70" y="276.50" font-size="7.4" text-anchor="middle" fill="#222" >ns</text>
<path d="M434.8,251.4 L434.8,247.6 L446.9,247.6 L446.9,265.0" fill="none" stroke="#444" stroke-width="0.9"/>
<text x="440.90" y="245.70" font-size="7.4" text-anchor="middle" fill="#222" >ns</text>
<path d="M461.5,259.1 L461.5,209.3 L474.0,209.3 L474.0,212.0" fill="none" stroke="#444" stroke-width="0.9"/>
<text x="467.80" y="207.40" font-size="7.4" text-anchor="middle" fill="#222" >ns</text>
<rect x="403.80" y="211.90" width="5.60" height="5.00" fill="#f08e10"/>
<text x="412.60" y="217.20" font-size="7.4" fill="#222">CD61<tspan font-size="5.33" dy="-3.0">KD</tspan></text>
<rect x="403.80" y="223.20" width="5.60" height="4.90" fill="#8c83bf"/>
<text x="412.60" y="228.40" font-size="7.4" text-anchor="start" fill="#222" >SCR</text>
<text transform="translate(375.10,265.00) rotate(-90)" x="0" y="0" font-size="9.4" text-anchor="middle" fill="#222" textLength="110" lengthAdjust="spacingAndGlyphs">% Donor-derived cells after 20 weeks</text>
<text transform="translate(417.00,334.40) rotate(-45)" x="0" y="0" font-size="7.8" text-anchor="end" fill="#222">T cells</text>
<text transform="translate(444.00,334.40) rotate(-45)" x="0" y="0" font-size="7.8" text-anchor="end" fill="#222">B cells</text>
<text transform="translate(471.00,334.60) rotate(-45)" x="0" y="0" font-size="7.8" text-anchor="end" fill="#222">Myeloid cells</text>
<text x="98.0" y="390.9" font-size="11.2" font-weight="bold" fill="#111">G</text>
<rect x="154.50" y="495.70" width="11.80" height="22.60" fill="#8c83bf"/>
<rect x="174.30" y="462.25" width="11.40" height="56.05" fill="#f08e10"/>
<line x1="146.70" y1="402.90" x2="146.70" y2="518.80" stroke="#222" stroke-width="1.1" />
<line x1="144.10" y1="518.30" x2="146.70" y2="518.30" stroke="#222" stroke-width="1.0" />
<text x="140.70" y="520.90" font-size="8.4" text-anchor="end" fill="#222" >0.0000</text>
<line x1="144.10" y1="495.70" x2="146.70" y2="495.70" stroke="#222" stroke-width="1.0" />
<text x="140.70" y="498.30" font-size="8.4" text-anchor="end" fill="#222" >0.0025</text>
<line x1="144.10" y1="473.10" x2="146.70" y2="473.10" stroke="#222" stroke-width="1.0" />
<text x="140.70" y="475.70" font-size="8.4" text-anchor="end" fill="#222" >0.0050</text>
<line x1="144.10" y1="450.50" x2="146.70" y2="450.50" stroke="#222" stroke-width="1.0" />
<text x="140.70" y="453.10" font-size="8.4" text-anchor="end" fill="#222" >0.0075</text>
<line x1="144.10" y1="427.90" x2="146.70" y2="427.90" stroke="#222" stroke-width="1.0" />
<text x="140.70" y="430.50" font-size="8.4" text-anchor="end" fill="#222" >0.0100</text>
<line x1="144.10" y1="405.30" x2="146.70" y2="405.30" stroke="#222" stroke-width="1.0" />
<text x="140.70" y="407.90" font-size="8.4" text-anchor="end" fill="#222" >0.0125</text>
<line x1="145.10" y1="507.00" x2="146.70" y2="507.00" stroke="#222" stroke-width="0.9" />
<line x1="145.10" y1="484.40" x2="146.70" y2="484.40" stroke="#222" stroke-width="0.9" />
<line x1="145.10" y1="461.80" x2="146.70" y2="461.80" stroke="#222" stroke-width="0.9" />
<line x1="145.10" y1="439.20" x2="146.70" y2="439.20" stroke="#222" stroke-width="0.9" />
<line x1="145.10" y1="416.60" x2="146.70" y2="416.60" stroke="#222" stroke-width="0.9" />
<line x1="146.20" y1="518.30" x2="192.70" y2="518.30" stroke="#222" stroke-width="1.2" />
<line x1="160.40" y1="518.30" x2="160.40" y2="521.10" stroke="#222" stroke-width="1.0" />
<line x1="179.90" y1="518.30" x2="179.90" y2="521.10" stroke="#222" stroke-width="1.0" />
<line x1="160.40" y1="475.30" x2="160.40" y2="515.00" stroke="#222" stroke-width="0.9" />
<line x1="157.00" y1="475.30" x2="163.80" y2="475.30" stroke="#222" stroke-width="0.9" />
<line x1="157.00" y1="515.00" x2="163.80" y2="515.00" stroke="#222" stroke-width="0.9" />
<line x1="179.90" y1="425.00" x2="179.90" y2="498.10" stroke="#222" stroke-width="0.9" />
<line x1="176.50" y1="425.00" x2="183.30" y2="425.00" stroke="#222" stroke-width="0.9" />
<line x1="176.50" y1="498.10" x2="183.30" y2="498.10" stroke="#222" stroke-width="0.9" />
<circle cx="160.40" cy="467.80" r="1.25" fill="#111"/>
<circle cx="160.40" cy="494.00" r="1.25" fill="#111"/>
<circle cx="157.40" cy="509.00" r="1.25" fill="#111"/>
<circle cx="163.20" cy="509.00" r="1.25" fill="#111"/>
<circle cx="179.90" cy="410.00" r="1.25" fill="#111"/>
<circle cx="179.90" cy="475.70" r="1.25" fill="#111"/>
<circle cx="179.90" cy="487.20" r="1.25" fill="#111"/>
<circle cx="179.90" cy="511.00" r="1.25" fill="#111"/>
<circle cx="177.40" cy="442.30" r="1.25" fill="#111"/>
<circle cx="182.70" cy="443.80" r="1.25" fill="#111"/>
<path d="M160.2,465.4 L160.2,402.6 L179.8,402.6 L179.8,405" fill="none" stroke="#444" stroke-width="0.9"/>
<text x="170.30" y="400.00" font-size="8.3" text-anchor="middle" fill="#222" >0.0986</text>
<rect x="192.20" y="410.10" width="5.60" height="5.10" fill="#f08e10"/>
<text x="201.00" y="415.50" font-size="7.4" fill="#222">CD61<tspan font-size="5.33" dy="-3.0">KD</tspan></text>
<rect x="192.20" y="421.80" width="5.60" height="4.80" fill="#8c83bf"/>
<text x="201.00" y="426.90" font-size="7.4" text-anchor="start" fill="#222" >SCR</text>
<text transform="translate(110.80,462.00) rotate(-90)" x="0" y="0" font-size="9.4" text-anchor="middle" fill="#222" textLength="81.8" lengthAdjust="spacingAndGlyphs">% LT-HSCs in CD45.2<tspan font-size="5.5" dy="-3">+</tspan><tspan dy="3"> cells</tspan></text>
<text transform="translate(164.60,530.80) rotate(-45)" x="0" y="0" font-size="8.4" text-anchor="end" fill="#222">SCR</text>
<text transform="translate(185.5,532.2) rotate(-45)" x="0" y="0" font-size="8.4" text-anchor="end" fill="#222">CD61<tspan font-size="5.6" dx="0.5" dy="-2.6">KD</tspan></text>
<text x="244.0" y="390.9" font-size="11.2" font-weight="bold" fill="#111">H</text>
<line x1="277.50" y1="402.90" x2="277.50" y2="519.00" stroke="#222" stroke-width="1.1" />
<line x1="274.90" y1="518.50" x2="277.50" y2="518.50" stroke="#222" stroke-width="1.0" />
<text x="271.30" y="521.10" font-size="8.0" text-anchor="end" fill="#222" >0</text>
<line x1="274.90" y1="490.30" x2="277.50" y2="490.30" stroke="#222" stroke-width="1.0" />
<text x="271.30" y="492.90" font-size="8.0" text-anchor="end" fill="#222" >25</text>
<line x1="274.90" y1="462.10" x2="277.50" y2="462.10" stroke="#222" stroke-width="1.0" />
<text x="271.30" y="464.70" font-size="8.0" text-anchor="end" fill="#222" >50</text>
<line x1="274.90" y1="433.90" x2="277.50" y2="433.90" stroke="#222" stroke-width="1.0" />
<text x="271.30" y="436.50" font-size="8.0" text-anchor="end" fill="#222" >75</text>
<line x1="274.90" y1="405.70" x2="277.50" y2="405.70" stroke="#222" stroke-width="1.0" />
<text x="271.30" y="408.30" font-size="8.0" text-anchor="end" fill="#222" >100</text>
<line x1="275.90" y1="504.40" x2="277.50" y2="504.40" stroke="#222" stroke-width="0.9" />
<line x1="275.90" y1="476.20" x2="277.50" y2="476.20" stroke="#222" stroke-width="0.9" />
<line x1="275.90" y1="448.00" x2="277.50" y2="448.00" stroke="#222" stroke-width="0.9" />
<line x1="275.90" y1="419.80" x2="277.50" y2="419.80" stroke="#222" stroke-width="0.9" />
<line x1="277.00" y1="518.50" x2="422.30" y2="518.50" stroke="#333" stroke-width="1.4" />
<line x1="314.20" y1="518.50" x2="314.20" y2="521.30" stroke="#222" stroke-width="1.0" />
<text x="314.20" y="532.00" font-size="8.0" text-anchor="middle" fill="#222" >4</text>
<line x1="385.70" y1="518.50" x2="385.70" y2="521.30" stroke="#222" stroke-width="1.0" />
<text x="385.70" y="532.00" font-size="8.0" text-anchor="middle" fill="#222" >8</text>
<text x="350.00" y="544.60" font-size="9.4" text-anchor="middle" fill="#222" textLength="40" lengthAdjust="spacingAndGlyphs">Time [weeks]</text>
<text transform="translate(251.80,462.00) rotate(-90)" x="0" y="0" font-size="9.4" text-anchor="middle" fill="#222" textLength="88.2" lengthAdjust="spacingAndGlyphs">% Peripheral blood chimerism</text>
<circle cx="314.20" cy="476.50" r="0.95" fill="#5c5aa8"/>
<circle cx="314.20" cy="483.50" r="0.95" fill="#5c5aa8"/>
<circle cx="314.20" cy="490.60" r="0.95" fill="#5c5aa8"/>
<circle cx="314.20" cy="502.10" r="0.95" fill="#5c5aa8"/>
<circle cx="314.20" cy="503.50" r="0.95" fill="#5c5aa8"/>
<circle cx="385.70" cy="440.60" r="0.95" fill="#5c5aa8"/>
<circle cx="385.70" cy="444.40" r="0.95" fill="#5c5aa8"/>
<circle cx="385.70" cy="458.50" r="0.95" fill="#5c5aa8"/>
<circle cx="385.70" cy="463.70" r="0.95" fill="#5c5aa8"/>
<circle cx="385.70" cy="506.90" r="0.95" fill="#ee8a30"/>
<circle cx="314.20" cy="518.00" r="0.95" fill="#ee8a30"/>
<circle cx="385.70" cy="518.00" r="0.95" fill="#ee8a30"/>
<line x1="314.20" y1="487.70" x2="385.70" y2="451.70" stroke="#8682c6" stroke-width="1.1" />
<line x1="314.20" y1="514.00" x2="385.70" y2="515.60" stroke="#f0a030" stroke-width="1.5" />
<line x1="280.80" y1="410.60" x2="286.80" y2="410.60" stroke="#f0a030" stroke-width="1.4" />
<text x="290.10" y="413.10" font-size="7.4" fill="#222">CD61<tspan font-size="5.33" dy="-3.0">KD</tspan></text>
<line x1="280.80" y1="421.20" x2="286.80" y2="421.20" stroke="#8682c6" stroke-width="1.1" />
<text x="290.10" y="424.00" font-size="7.4" text-anchor="start" fill="#222" >SCR</text>
<rect x="0.5" y="0.5" width="519" height="560" fill="none" stroke="#555" stroke-width="1.2"/>
</svg></body></html>
